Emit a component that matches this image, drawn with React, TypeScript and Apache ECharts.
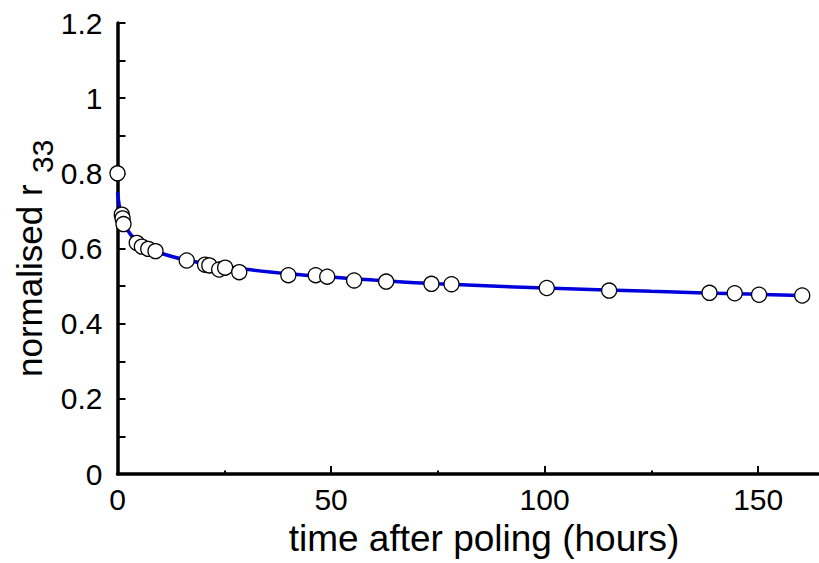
import React, { useEffect, useRef } from "react";
import * as echarts from "echarts";

// measured points
const hours = [0, 1.0, 1.2, 1.4, 4.5, 5.7, 7.2, 8.9, 16.2, 20.5, 21.5, 23.8, 25.2, 28.5, 40.0, 46.4, 49.1, 55.4, 62.9, 73.5, 78.2, 100.5, 115.1, 138.6, 144.5, 150.2, 160.3];
const r33 = [0.8, 0.69, 0.68, 0.665, 0.615, 0.605, 0.599, 0.593, 0.568, 0.557, 0.555, 0.544, 0.549, 0.537, 0.529, 0.529, 0.525, 0.515, 0.512, 0.506, 0.505, 0.495, 0.488, 0.482, 0.481, 0.477, 0.475];

// fitted curve
const fitHours = [0, 1, 2, 4, 7, 10, 15, 20, 30, 40, 50, 60, 75, 100, 125, 150, 160];
const fitValues = [0.75, 0.68, 0.655, 0.625, 0.6, 0.588, 0.572, 0.561, 0.545, 0.533, 0.524, 0.516, 0.506, 0.495, 0.486, 0.478, 0.475];

// ticks
const xMajorTicks = [50, 100, 150];
const xMinorTicks = [25, 75, 125];
const xLabels = [0, 50, 100, 150];
const yTicks = [0, 0.1, 0.2, 0.3, 0.4, 0.5, 0.6, 0.7, 0.8, 0.9, 1.0, 1.1, 1.2];
const yLabels = [0, 0.2, 0.4, 0.6, 0.8, 1.0, 1.2];

const FONT = "Liberation Sans, Arial, sans-serif";

export default function App() {
  const ref = useRef<HTMLDivElement>(null);
  useEffect(() => {
    if (!ref.current) return;
    const chart = echarts.init(ref.current, undefined, { renderer: "svg" });
    const xMin = 0;
    const xMax = 164;
    chart.setOption({
      animation: false,
      backgroundColor: "#ffffff",
      grid: { left: 117.5, right: 1, top: 23, bottom: 89 },
      xAxis: [
        {
          type: "value",
          min: xMin,
          max: xMax,
          position: "bottom",
          splitLine: { show: false },
          axisLine: { show: true, onZero: false, lineStyle: { color: "#000", width: 3.5 } },
          axisTick: { show: true, inside: true, length: 8, customValues: xMajorTicks, lineStyle: { color: "#000", width: 2 } },
          axisLabel: { customValues: xLabels, color: "#000", fontSize: 30, fontFamily: FONT, margin: 10, formatter: (v: number) => String(v) },
        },
        {
          type: "value",
          min: xMin,
          max: xMax,
          position: "bottom",
          splitLine: { show: false },
          axisLine: { show: false },
          axisTick: { show: true, inside: true, length: 3.5, customValues: xMinorTicks, lineStyle: { color: "#000", width: 2 } },
          axisLabel: { show: false },
        },
      ],
      yAxis: {
        type: "value",
        min: 0,
        max: 1.2,
        splitLine: { show: false },
        axisLine: { show: true, onZero: false, lineStyle: { color: "#000", width: 3.5 } },
        axisTick: { show: true, inside: true, length: 8, customValues: yTicks, lineStyle: { color: "#000", width: 2 } },
        axisLabel: { customValues: yLabels, color: "#000", fontSize: 30, fontFamily: FONT, margin: 15, formatter: (v: number) => String(v) },
      },
      graphic: [
        {
          type: "text",
          x: 29,
          y: 377,
          rotation: Math.PI / 2,
          style: { text: "normalised r", fontSize: 35, fontFamily: FONT, fill: "#000", textAlign: "left", textVerticalAlign: "middle" },
        },
        {
          type: "text",
          x: 42,
          y: 173,
          rotation: Math.PI / 2,
          style: { text: "33", fontSize: 30, fontFamily: FONT, fill: "#000", textAlign: "left", textVerticalAlign: "middle" },
        },
        {
          type: "text",
          x: 484,
          y: 538,
          style: { text: "time after poling (hours)", fontSize: 37, fontFamily: FONT, fill: "#000", textAlign: "center", textVerticalAlign: "middle" },
        },
      ],
      series: [
        {
          type: "line",
          data: fitHours.map((h, i) => [h, fitValues[i]]),
          smooth: 0.4,
          showSymbol: false,
          lineStyle: { color: "#0000dd", width: 3.5 },
          z: 2,
        },
        {
          type: "scatter",
          data: hours.map((h, i) => [h, r33[i]]),
          symbol: "circle",
          symbolSize: 15,
          itemStyle: { color: "#ffffff", borderColor: "#000", borderWidth: 1.3, opacity: 1 },
          z: 3,
        },
      ],
    });
    return () => chart.dispose();
  }, []);
  return <div ref={ref} style={{ width: 819, height: 563, position: "absolute", left: 0, top: 0 }} />;
}
